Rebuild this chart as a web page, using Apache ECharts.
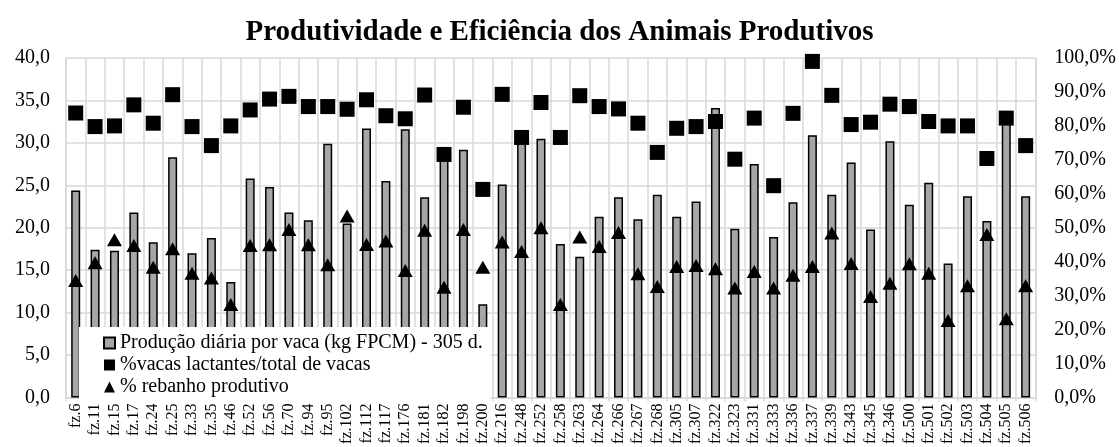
<!DOCTYPE html>
<html>
<head>
<meta charset="utf-8">
<script src="https://cdn.jsdelivr.net/npm/echarts@6/dist/echarts.min.js"></script>
<style>html,body{margin:0;padding:0;background:#fff;}#c{width:1119px;height:447px;}</style>
</head>
<body>
<div id="c"></div>
<script>
const categories = ['fz.6','fz.11','fz.15','fz.17','fz.24','fz.25','fz.33','fz.35','fz.46','fz.52','fz.56','fz.70','fz.94','fz.95','fz.102','fz.112','fz.117','fz.176','fz.181','fz.182','fz.198','fz.200','fz.216','fz.248','fz.252','fz.258','fz.263','fz.264','fz.266','fz.267','fz.268','fz.305','fz.307','fz.322','fz.323','fz.331','fz.333','fz.336','fz.337','fz.339','fz.343','fz.345','fz.346','fz.500','fz.501','fz.502','fz.503','fz.504','fz.505','fz.506'];
const producao = [24.4,17.4,17.3,21.8,18.3,28.3,17.0,18.8,13.6,25.8,24.8,21.8,20.9,29.9,20.5,31.7,25.5,31.6,23.6,28.2,29.2,11.0,25.1,30.3,30.5,18.1,16.6,21.3,23.6,21.0,23.9,21.3,23.1,34.1,19.9,27.5,18.9,23.0,30.9,23.9,27.7,19.8,30.2,22.7,25.3,15.8,23.7,20.8,32.8,23.7];
const vacasLactantes = [83.8,79.8,80.0,86.2,80.8,89.2,79.8,74.2,80.0,84.7,87.9,88.7,85.7,85.7,84.9,87.7,83.0,82.1,89.1,71.6,85.5,61.3,89.3,76.6,86.9,76.6,88.9,85.7,85.0,80.8,72.2,79.3,79.8,81.3,70.2,82.3,62.4,83.7,99.0,89.0,80.4,81.1,86.4,85.7,81.3,80.0,80.0,70.4,82.3,74.2];
const rebanhoProdutivo = [34.5,39.7,46.5,44.8,38.4,43.8,36.6,35.2,27.4,44.8,45.0,49.5,45.0,39.1,53.5,45.1,46.1,37.4,49.3,32.5,49.5,38.4,45.8,43.0,50.0,27.4,47.3,44.5,48.6,36.5,32.7,38.6,38.9,37.9,32.3,37.1,32.3,36.0,38.6,48.5,39.5,29.8,33.7,39.4,36.6,22.7,32.9,48.0,23.2,32.9];
const leftTicks = {min:0, max:40, interval:5};
const rightTicks = {min:0, max:100, interval:10};

const FONT = 'Liberation Serif';
const chart = echarts.init(document.getElementById('c'));
chart.setOption({
  animation: false,
  backgroundColor: '#fff',
  title: {
    text: 'Produtividade e Eficiência dos Animais Produtivos',
    left: 'center', top: 18, padding: 0,
    textStyle: {fontFamily: FONT, fontSize: 29, fontWeight: 'bold', color: '#000'}
  },
  grid: {left: 66, right: 82, top: 58, bottom: 47},
  legend: {
    orient: 'vertical', left: 79, top: 327,
    backgroundColor: '#fff',
    padding: [6, 8, 7, 24],
    itemGap: 2, itemWidth: 11, itemHeight: 11,
    textStyle: {fontFamily: FONT, fontSize: 20, color: '#000', lineHeight: 20},
    data: [
      {name: 'Produção diária por vaca (kg FPCM) - 305 d.', icon: 'rect'},
      {name: '%vacas lactantes/total de vacas', icon: 'rect'},
      {name: '% rebanho produtivo', icon: 'triangle'}
    ]
  },
  xAxis: {
    type: 'category', data: categories,
    axisLine: {lineStyle: {color: '#d9d9d9', width: 1.5}},
    axisTick: {show: true, length: 4, lineStyle: {color: '#d9d9d9', width: 1.5}},
    splitLine: {show: true, lineStyle: {color: '#d9d9d9', width: 1.5}},
    axisLabel: {interval: 0, rotate: 90, margin: 6, fontFamily: FONT, fontSize: 16, color: '#000'}
  },
  yAxis: [
    {
      type: 'value', min: leftTicks.min, max: leftTicks.max, interval: leftTicks.interval,
      axisLine: {show: true, lineStyle: {color: '#d9d9d9', width: 1.5}},
      axisTick: {show: false},
      splitLine: {lineStyle: {color: '#d9d9d9', width: 1.5}},
      axisLabel: {fontFamily: FONT, fontSize: 20, color: '#000', margin: 16,
        formatter: v => v.toFixed(1).replace('.', ',')}
    },
    {
      type: 'value', min: rightTicks.min, max: rightTicks.max, interval: rightTicks.interval,
      axisLine: {show: true, lineStyle: {color: '#d9d9d9', width: 1.5}},
      axisTick: {show: false},
      splitLine: {show: false},
      axisLabel: {fontFamily: FONT, fontSize: 20, color: '#000', margin: 19,
        formatter: v => v.toFixed(1).replace('.', ',') + '%'}
    }
  ],
  series: [
    {
      name: 'Produção diária por vaca (kg FPCM) - 305 d.', type: 'bar', yAxisIndex: 0,
      data: producao, barWidth: 9,
      itemStyle: {color: '#a6a6a6', borderColor: '#000', borderWidth: 1.5}
    },
    {
      name: '%vacas lactantes/total de vacas', type: 'scatter', yAxisIndex: 1,
      data: vacasLactantes, symbol: 'rect', symbolSize: 15,
      itemStyle: {color: '#000', opacity: 1}
    },
    {
      name: '% rebanho produtivo', type: 'scatter', yAxisIndex: 1,
      data: rebanhoProdutivo, symbol: 'triangle', symbolSize: [15, 13],
      itemStyle: {color: '#000', opacity: 1}
    }
  ]
});
</script>
</body>
</html>
